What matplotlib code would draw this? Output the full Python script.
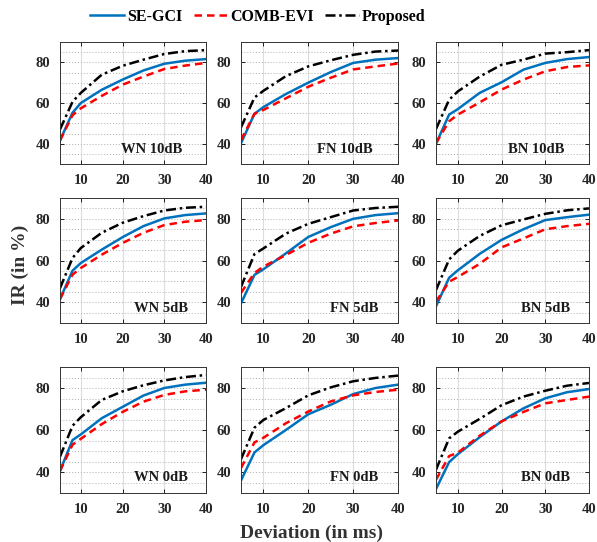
import numpy as np
import matplotlib
matplotlib.use("Agg")
import matplotlib.pyplot as plt
from matplotlib.ticker import MultipleLocator

plt.rcParams['font.family'] = ['Liberation Serif', 'DejaVu Serif']
plt.rcParams['font.weight'] = 'bold'

# deviation (ms) at which IR was read
dev = [5, 8, 10, 15, 20, 25, 30, 35, 40]

panel_names = ['WN 10dB', 'FN 10dB', 'BN 10dB',
               'WN 5dB', 'FN 5dB', 'BN 5dB',
               'WN 0dB', 'FN 0dB', 'BN 0dB']

se_gci = [
    [41.6, 55.2, 60.0, 66.5, 71.5, 76.0, 79.3, 80.8, 81.6],
    [40.2, 54.7, 58.0, 64.4, 70.0, 75.2, 79.7, 81.3, 82.1],
    [40.0, 54.3, 57.0, 65.0, 70.2, 76.4, 79.7, 81.6, 82.6],
    [41.5, 55.1, 58.8, 65.2, 71.2, 76.5, 80.2, 81.8, 82.6],
    [39.4, 53.1, 55.8, 63.4, 71.3, 76.0, 80.0, 81.8, 82.7],
    [38.0, 51.7, 55.3, 63.2, 69.9, 75.0, 79.4, 80.8, 82.0],
    [40.5, 55.2, 57.9, 65.6, 71.0, 76.4, 80.0, 81.6, 82.5],
    [36.0, 49.3, 52.8, 60.0, 67.5, 72.0, 77.1, 80.0, 81.6],
    [31.9, 44.7, 48.5, 56.6, 64.1, 70.3, 75.1, 78.0, 79.5],
]

comb_evi = [
    [41.6, 54.0, 57.4, 63.5, 69.0, 73.0, 76.7, 78.4, 79.7],
    [41.8, 54.7, 56.6, 62.3, 68.0, 72.4, 76.5, 78.0, 79.4],
    [40.3, 51.0, 54.3, 60.3, 66.6, 71.5, 75.6, 77.7, 78.5],
    [41.5, 53.2, 56.4, 62.8, 68.4, 73.3, 77.0, 78.6, 79.4],
    [44.5, 54.0, 57.1, 62.6, 68.5, 72.9, 76.4, 78.0, 79.2],
    [40.3, 49.8, 52.1, 58.4, 66.3, 70.6, 75.0, 76.5, 77.6],
    [40.5, 53.0, 55.8, 62.8, 68.6, 73.5, 76.7, 78.4, 79.2],
    [41.9, 54.1, 56.3, 63.2, 68.8, 73.6, 76.5, 78.1, 79.2],
    [36.3, 47.6, 49.2, 57.3, 64.1, 68.6, 72.7, 74.3, 75.9],
]

proposed = [
    [47.0, 60.6, 65.0, 73.9, 78.3, 81.3, 84.1, 85.5, 86.0],
    [48.0, 62.7, 66.0, 73.2, 78.0, 81.0, 83.7, 85.3, 85.8],
    [47.2, 61.6, 65.7, 73.0, 78.8, 81.3, 84.3, 85.0, 86.0],
    [46.7, 61.2, 66.0, 73.3, 78.1, 81.3, 84.0, 85.3, 85.8],
    [47.3, 63.1, 65.8, 72.9, 77.6, 80.8, 84.0, 85.2, 85.8],
    [45.8, 60.5, 64.7, 71.8, 76.9, 79.7, 82.4, 84.1, 85.0],
    [47.3, 62.0, 66.1, 74.3, 78.4, 81.3, 83.6, 85.2, 86.2],
    [46.1, 61.1, 64.8, 70.4, 76.5, 80.3, 83.2, 84.8, 85.9],
    [41.1, 56.0, 59.2, 65.3, 71.8, 75.9, 78.7, 81.1, 82.4],
]

W, H = 597, 542
fig = plt.figure(figsize=(W / 100, H / 100), dpi=100)

# axes boxes in pixels (left, right) per column and (top, bottom) per row
cols = [(60, 206), (241, 398), (436, 589)]
rows = [(42, 164), (198, 323), (367, 493)]

blue = '#0072BD'
for i in range(9):
    r, c = divmod(i, 3)
    l, rr = cols[c]
    t, b = rows[r]
    ax = fig.add_axes([l / W, 1 - b / H, (rr - l) / W, (b - t) / H])
    ax.plot(dev, se_gci[i], color=blue, lw=1.8, label='SE-GCI')
    ax.plot(dev, comb_evi[i], color='red', lw=1.8, ls=(0, (3, 2)), label='COMB-EVI')
    ax.plot(dev, proposed[i], color='black', lw=1.8, ls=(0, (4, 1.5, 1, 1.5)), label='Proposed')
    ax.set_xlim(5, 40)
    ax.set_ylim(30, 90)
    ax.set_xticks([10, 20, 30, 40])
    ax.set_yticks([40, 60, 80])
    ax.yaxis.set_minor_locator(MultipleLocator(5))
    ax.grid(True, axis='x', which='major', color='#dcdcdc', lw=0.8, ls='-')
    ax.grid(True, axis='y', which='both', color='#b0b0b0', lw=0.7, ls=(0, (1, 2)))
    ax.set_axisbelow(True)
    ax.tick_params(which='major', direction='in', length=3, width=0.6,
                   labelsize=10.5, top=True, right=True, pad=7)
    ax.tick_params(which='minor', length=0)
    for sp in ax.spines.values():
        sp.set_linewidth(0.7)
        sp.set_color('#333333')
    for lab in ax.get_xticklabels() + ax.get_yticklabels():
        lab.set_fontweight('bold')
        lab.set_color('#262626')
    tx = 0.84 if r == 0 else 0.875
    ax.text(tx, 0.12, panel_names[i], transform=ax.transAxes, ha='right',
            va='center', fontsize=10.5, fontweight='bold', color='#1a1a1a')
    if i == 0:
        handles, labels = ax.get_legend_handles_labels()

fig.legend(handles, labels, loc='center', bbox_to_anchor=(258 / W, 1 - 17 / H),
           ncol=3, frameon=False, prop={'weight': 'bold', 'size': 11.5},
           handlelength=2.1, handletextpad=0.2, columnspacing=0.7)

fig.text(312 / W, 1 - 533 / H, 'Deviation (in ms)', ha='center', va='center',
         fontsize=14, fontweight='bold', color='#333333')
fig.text(20 / W, 1 - 265 / H, 'IR (in %)', ha='center', va='center',
         rotation=90, fontsize=14, fontweight='bold', color='#333333')

fig.savefig('out.png', dpi=100)
